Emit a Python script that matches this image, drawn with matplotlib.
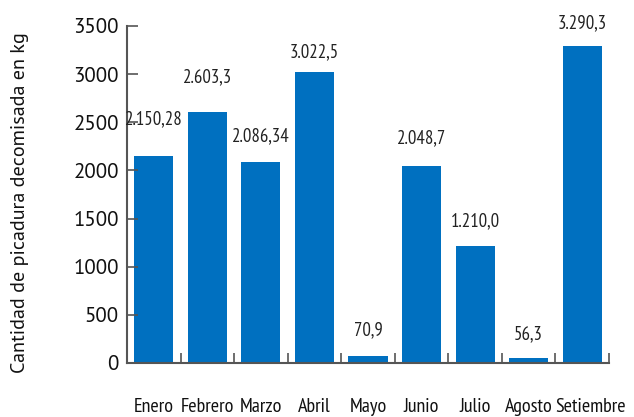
import matplotlib.pyplot as plt
import matplotlib.transforms as mtransforms
import numpy as np

meses = ['Enero', 'Febrero', 'Marzo', 'Abril', 'Mayo', 'Junio', 'Julio', 'Agosto', 'Setiembre']
valores = [2150.28, 2603.3, 2086.34, 3022.5, 70.9, 2048.7, 1210.0, 56.3, 3290.3]
etiquetas = ['2.150,28', '2.603,3', '2.086,34', '3.022,5', '70,9', '2.048,7', '1.210,0', '56,3', '3.290,3']
# distancia de la etiqueta sobre la barra (pt)
desfase = [20, 19, 12, 8, 12, 13, 12, 10, 10]

azul = '#0070c0'
gris = '#555555'
narrow = ['PT Sans Narrow', 'DejaVu Sans']
normal = ['PT Sans', 'DejaVu Sans']

fig = plt.figure(figsize=(6.34, 4.17), dpi=100)
ax = fig.add_axes([127/634, 1 - 363/417, (609-127)/634, (363-26)/417])

x = np.arange(len(meses))
ax.bar(x, valores, width=0.73, color=azul)

for xi, v, t, d in zip(x, valores, etiquetas, desfase):
    ax.annotate(t, (xi, v), xytext=(0, d), textcoords='offset points',
                ha='center', va='bottom', fontsize=13.5, family=narrow, color='#222222')

ax.set_xlim(-0.5, len(meses) - 0.5)
ax.set_ylim(0, 3500)
ax.set_yticks(range(0, 3501, 500))
ax.tick_params(axis='y', length=8, width=1.2, color=gris, labelsize=15, pad=6, direction='in',
               labelcolor='#111111')
for lbl in ax.get_yticklabels():
    lbl.set_family(normal)

ax.set_xticks(np.arange(-0.5, len(meses), 1))
ax.set_xticklabels([])
ax.tick_params(axis='x', length=7, width=1.2, color=gris, direction='in')
ax.set_xticks(x, minor=True)
ax.set_xticklabels(meses, minor=True, fontsize=14.5, family=narrow)
ax.tick_params(axis='x', which='minor', length=0, pad=25, labelcolor='#111111')

# "Setiembre" va algo corrida a la derecha, como en el original
ultimo = ax.get_xticklabels(minor=True)[-1]
ultimo.set_transform(ultimo.get_transform() +
                     mtransforms.ScaledTranslation(8/100, 0, fig.dpi_scale_trans))

for s in ['top', 'right']:
    ax.spines[s].set_visible(False)
for s in ['left', 'bottom']:
    ax.spines[s].set_color(gris)
    ax.spines[s].set_linewidth(1.5)

fig.text(20/634, 1 - 203/417, 'Cantidad de picadura decomisada en kg', rotation=90,
         ha='center', va='center', fontsize=14.5, family=normal, color='#111111')

fig.savefig('out.png', dpi=100)
